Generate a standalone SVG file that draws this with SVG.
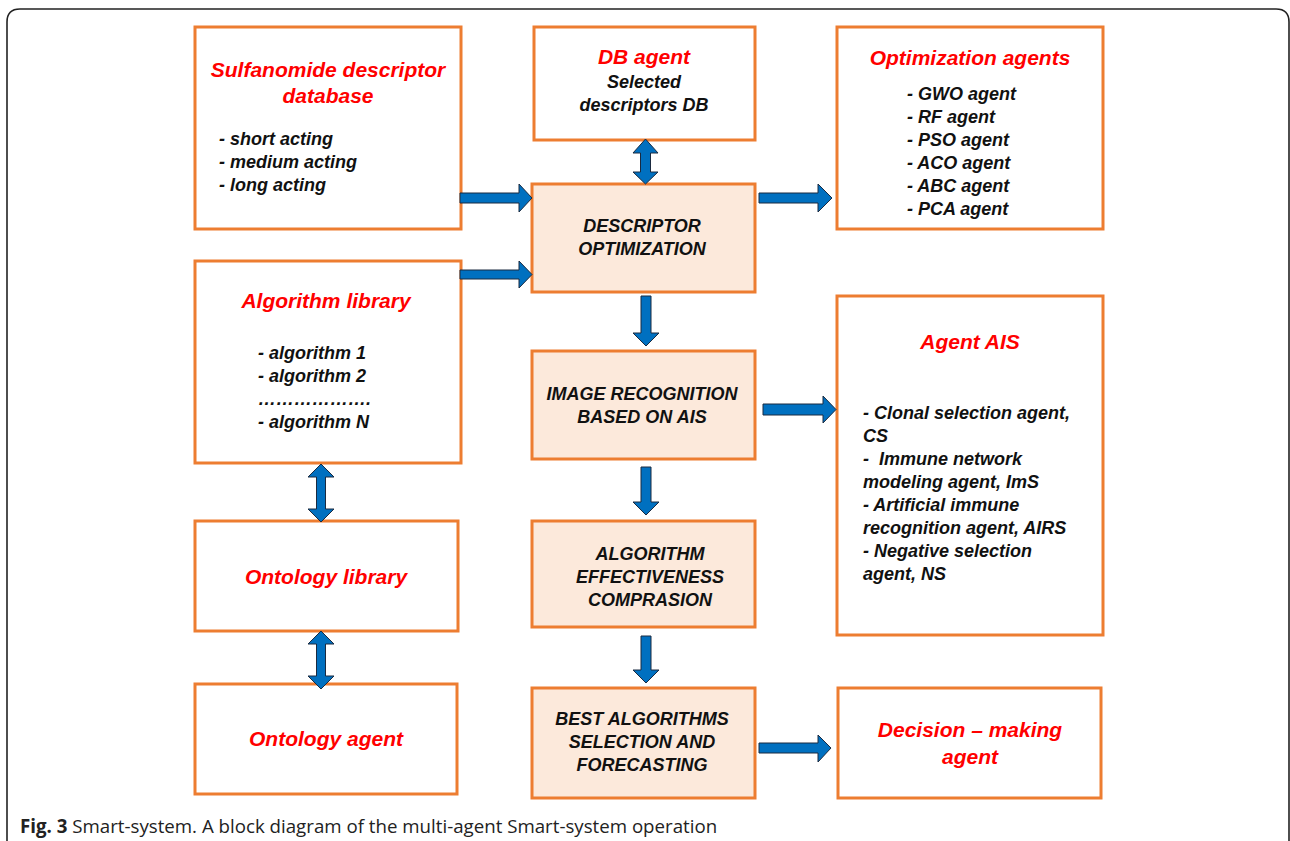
<svg xmlns="http://www.w3.org/2000/svg" width="1290" height="841" viewBox="0 0 1290 841">
<style>
.box{fill:#fff;stroke:#ED7D31;stroke-width:3}
.proc{fill:#FCE9DB;stroke:#ED7D31;stroke-width:3}
.t{font-family:"Liberation Sans",Arial,sans-serif;font-weight:bold;font-style:italic}
.red{fill:#FF0000;font-size:21px}
.blk{fill:#111;font-size:18px}
.arr{fill:#0070C0;stroke:#1a2a40;stroke-width:1}
.frame{fill:none;stroke:#222;stroke-width:1.6}
.cap{font-family:"Open Sans","Liberation Sans",sans-serif;font-size:18.7px;fill:#222}
</style>
<path class="frame" d="M7,841 V22 Q7,9 20,9 H1276 Q1289,9 1289,22 V841"/>
<g id="sulfanomide">
<rect class="box" x="195" y="27" width="266" height="202"/>
<text class="t red" x="328" y="77" text-anchor="middle">Sulfanomide descriptor</text>
<text class="t red" x="328" y="103" text-anchor="middle">database</text>
<text class="t blk" x="219" y="145">- short acting</text>
<text class="t blk" x="219" y="168">- medium acting</text>
<text class="t blk" x="219" y="191">- long acting</text>
</g>
<g id="dbagent">
<rect class="box" x="534" y="27" width="221" height="113"/>
<text class="t red" x="644" y="64" text-anchor="middle">DB agent</text>
<text class="t blk" x="644" y="88" text-anchor="middle">Selected</text>
<text class="t blk" x="644" y="111" text-anchor="middle">descriptors DB</text>
</g>
<g id="optagents">
<rect class="box" x="837" y="27" width="266" height="202"/>
<text class="t red" x="970" y="65" text-anchor="middle">Optimization agents</text>
<text class="t blk" x="907" y="100">- GWO agent</text>
<text class="t blk" x="907" y="123">- RF agent</text>
<text class="t blk" x="907" y="146">- PSO agent</text>
<text class="t blk" x="907" y="169">- ACO agent</text>
<text class="t blk" x="907" y="192">- ABC agent</text>
<text class="t blk" x="907" y="215">- PCA agent</text>
</g>
<g id="descopt">
<rect class="proc" x="532" y="184" width="223" height="108"/>
<text class="t blk" x="642" y="232" text-anchor="middle">DESCRIPTOR</text>
<text class="t blk" x="642" y="255" text-anchor="middle">OPTIMIZATION</text>
</g>
<g id="algolib">
<rect class="box" x="195" y="261" width="266" height="202"/>
<text class="t red" x="326" y="308" text-anchor="middle">Algorithm library</text>
<text class="t blk" x="258" y="359">- algorithm 1</text>
<text class="t blk" x="258" y="382">- algorithm 2</text>
<text class="t blk" x="258" y="405">……………….</text>
<text class="t blk" x="258" y="428">- algorithm N</text>
</g>
<g id="imagerec">
<rect class="proc" x="532" y="351" width="223" height="108"/>
<text class="t blk" x="642" y="400" text-anchor="middle">IMAGE RECOGNITION</text>
<text class="t blk" x="642" y="423" text-anchor="middle">BASED ON AIS</text>
</g>
<g id="agentais">
<rect class="box" x="837" y="296" width="266" height="339"/>
<text class="t red" x="970" y="349" text-anchor="middle">Agent AIS</text>
<text class="t blk" x="863" y="419">- Clonal selection agent,</text>
<text class="t blk" x="863" y="442">CS</text>
<text class="t blk" x="863" y="465" xml:space="preserve">-  Immune network</text>
<text class="t blk" x="863" y="488">modeling agent, ImS</text>
<text class="t blk" x="863" y="511">- Artificial immune</text>
<text class="t blk" x="863" y="534">recognition agent, AIRS</text>
<text class="t blk" x="863" y="557">- Negative selection</text>
<text class="t blk" x="863" y="580">agent, NS</text>
</g>
<g id="ontlib">
<rect class="box" x="195" y="521" width="263" height="110"/>
<text class="t red" x="326" y="584" text-anchor="middle">Ontology library</text>
</g>
<g id="algoeff">
<rect class="proc" x="532" y="521" width="223" height="106"/>
<text class="t blk" x="650" y="560" text-anchor="middle">ALGORITHM</text>
<text class="t blk" x="650" y="583" text-anchor="middle">EFFECTIVENESS</text>
<text class="t blk" x="650" y="606" text-anchor="middle">COMPRASION</text>
</g>
<g id="ontagent">
<rect class="box" x="195" y="684" width="262" height="110"/>
<text class="t red" x="326" y="746" text-anchor="middle">Ontology agent</text>
</g>
<g id="bestalgo">
<rect class="proc" x="532" y="688" width="223" height="110"/>
<text class="t blk" x="642" y="725" text-anchor="middle">BEST ALGORITHMS</text>
<text class="t blk" x="642" y="748" text-anchor="middle">SELECTION AND</text>
<text class="t blk" x="642" y="771" text-anchor="middle">FORECASTING</text>
</g>
<g id="decision">
<rect class="box" x="838" y="688" width="263" height="110"/>
<text class="t red" x="970" y="737" text-anchor="middle">Decision – making</text>
<text class="t red" x="970" y="764" text-anchor="middle">agent</text>
</g>
<g id="connectors">
<polygon class="arr" points="460,193 519,193 519,184 532,198 519,212 519,203 460,203"/>
<polygon class="arr" points="460,270 519,270 519,261 532,274.5 519,288 519,279 460,279"/>
<polygon class="arr" points="759,193 818,193 818,184 832,198 818,212 818,203 759,203"/>
<polygon class="arr" points="763,404 823,404 823,396 836,409.5 823,423 823,415 763,415"/>
<polygon class="arr" points="759,743 818,743 818,735 831,748 818,762 818,753 759,753"/>
<polygon class="arr" points="641,296 651,296 651,333 659,333 646,346 633,333 641,333"/>
<polygon class="arr" points="641,467 651,467 651,502 659,502 646,515 633,502 641,502"/>
<polygon class="arr" points="641,636 651,636 651,670 659,670 646,683 633,670 641,670"/>
<polygon class="arr" points="645.5,139 658,153 650.5,153 650.5,172 658,172 645.5,184 633,172 640.5,172 640.5,153 633,153"/>
<polygon class="arr" points="321,464 334,477 325.5,477 325.5,509 334,509 321,522 308,509 316.5,509 316.5,477 308,477"/>
<polygon class="arr" points="321,631 334,644 325.5,644 325.5,676 334,676 321,689 308,676 316.5,676 316.5,644 308,644"/>
</g>
<text class="cap" x="20" y="833"><tspan font-weight="bold">Fig. 3</tspan> Smart-system. A block diagram of the multi-agent Smart-system operation</text>
</svg>
